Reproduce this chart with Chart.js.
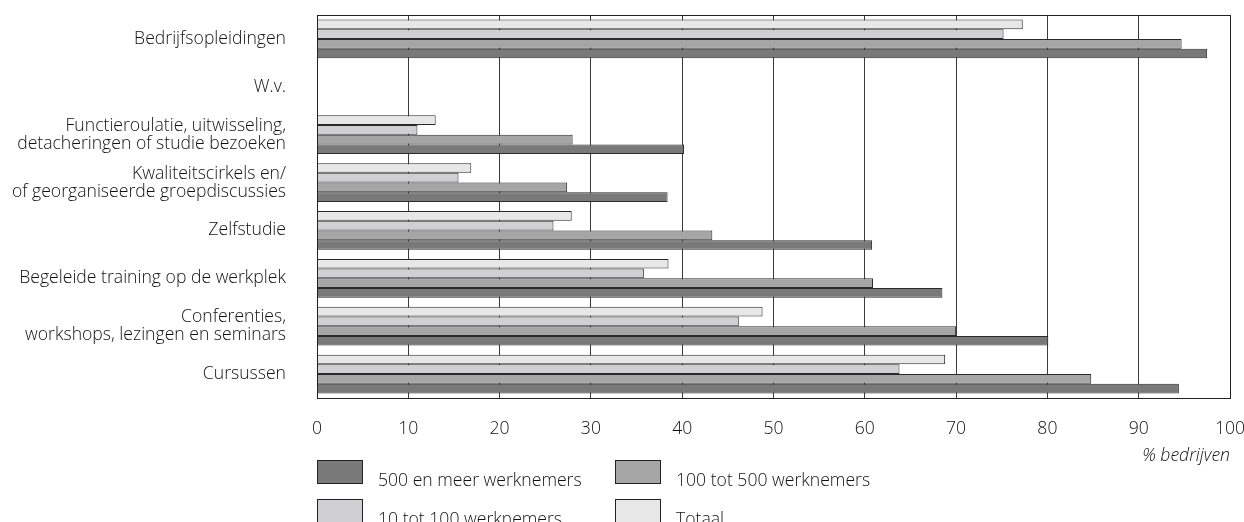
<!DOCTYPE html>
<html>
<head>
<meta charset="utf-8">
<script src="https://cdn.jsdelivr.net/npm/chart.js@4/dist/chart.umd.min.js"></script>
<style>
  html, body { margin: 0; padding: 0; background: #fff; }
  #wrap { position: relative; width: 1244px; height: 522px; overflow: hidden; }
  .legend { position: absolute; left: 0; top: 0; font-family: "Open Sans", sans-serif; font-weight: 300; font-size: 17.6px; color: #111; }
  .item { position: absolute; white-space: nowrap; }
  .item .box { position: absolute; left: 0; top: 0; width: 44px; height: 22px; border: 1px solid #222; }
  .item .txt { position: absolute; left: 61px; top: 8px; line-height: 22px; }
</style>
</head>
<body>
<div id="wrap">
  <canvas id="chart" width="1244" height="522"></canvas>
  <div class="legend" id="legend"></div>
</div>
<script>
// categories, top to bottom
const categories = [
  'Bedrijfsopleidingen',
  'W.v.',
  ['Functieroulatie, uitwisseling,', 'detacheringen of studie bezoeken'],
  ['Kwaliteitscirkels en/', 'of georganiseerde groepdiscussies'],
  'Zelfstudie',
  'Begeleide training op de werkplek',
  ['Conferenties,', 'workshops, lezingen en seminars'],
  'Cursussen'
];

// % bedrijven per groep
const totaal      = [77.3, null, 13.0, 16.9, 27.9, 38.5, 48.8, 68.8];
const klein       = [75.2, null, 11.0, 15.5, 25.9, 35.8, 46.2, 63.8];
const middel      = [94.7, null, 28.0, 27.4, 43.3, 60.9, 70.0, 84.8];
const groot       = [97.5, null, 40.2, 38.4, 60.8, 68.5, 80.1, 94.4];

const xTicks = [0, 10, 20, 30, 40, 50, 60, 70, 80, 90, 100];

const series = [
  { label: 'Totaal', data: totaal, color: '#e7e7e7' },
  { label: '10 tot 100 werknemers', data: klein, color: '#d0d0d2' },
  { label: '100 tot 500 werknemers', data: middel, color: '#a6a6a6' },
  { label: '500 en meer werknemers', data: groot, color: '#797979' }
];

const FONT = '"Open Sans", sans-serif';
const TXT = '#111';

// frame around the plot area
const frame = {
  id: 'frame',
  afterDatasetsDraw(chart) {
    const a = chart.chartArea;
    const ctx = chart.ctx;
    ctx.save();
    ctx.strokeStyle = '#222';
    ctx.lineWidth = 1;
    ctx.strokeRect(Math.round(a.left) + 0.5, Math.round(a.top) + 0.5,
      Math.round(a.right - a.left), Math.round(a.bottom - a.top));
    ctx.restore();
  }
};

new Chart(document.getElementById('chart'), {
  type: 'bar',
  data: {
    labels: categories,
    datasets: series.map(s => ({
      label: s.label,
      data: s.data,
      backgroundColor: s.color,
      borderColor: '#2a2a2a',
      borderWidth: 1,
      categoryPercentage: 0.81,
      barPercentage: 1.0
    }))
  },
  options: {
    indexAxis: 'y',
    responsive: false,
    animation: false,
    layout: { padding: { top: 15, right: 14, left: 0, bottom: 0 } },
    plugins: {
      legend: { display: false },
      tooltip: { enabled: false }
    },
    scales: {
      x: {
        min: 0,
        max: 100,
        afterBuildTicks: scale => { scale.ticks = xTicks.map(v => ({ value: v })); },
        afterFit: scale => {
          scale.height = 124;
          scale.paddingLeft = 0;
          scale.paddingRight = 0;
        },
        grid: { color: '#3a3a3a', lineWidth: 1, drawTicks: false },
        border: { color: '#222' },
        ticks: { padding: 20, color: TXT, font: { family: FONT, size: 17.6, weight: '300' } },
        title: {
          display: true,
          text: '% bedrijven',
          align: 'end',
          color: TXT,
          font: { family: FONT, size: 17.6, style: 'italic', weight: '300' },
          padding: { top: 0, bottom: 55 }
        }
      },
      y: {
        afterFit: scale => {
          scale.width = 317;
          scale.paddingTop = 0;
          scale.paddingBottom = 0;
        },
        grid: { display: false, drawTicks: false },
        border: { color: '#222' },
        ticks: { padding: 31, color: TXT, font: { family: FONT, size: 17.6, weight: '300', lineHeight: 1.03 } }
      }
    }
  },
  plugins: [frame]
});

// legend: two rows of two, darkest first
const legendOrder = [3, 2, 1, 0];
const legendPos = [[317, 460], [615, 460], [317, 499], [615, 499]];
const legendEl = document.getElementById('legend');
legendOrder.forEach((idx, i) => {
  const s = series[idx];
  const it = document.createElement('div');
  it.className = 'item';
  it.style.left = legendPos[i][0] + 'px';
  it.style.top = legendPos[i][1] + 'px';
  it.innerHTML = '<div class="box" style="background:' + s.color + '"></div><span class="txt">' + s.label + '</span>';
  legendEl.appendChild(it);
});
</script>
</body>
</html>
